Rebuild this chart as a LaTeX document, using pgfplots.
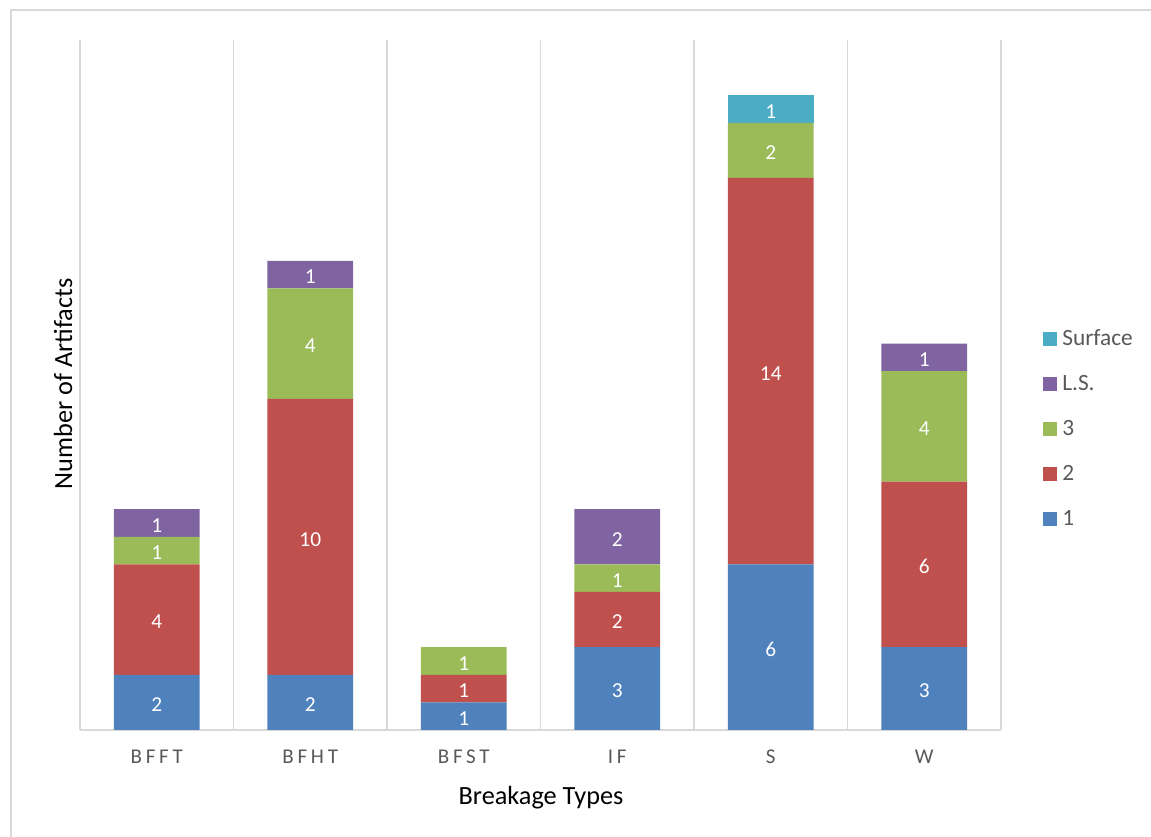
\documentclass[border=0pt]{standalone}
\usepackage{pgfplots}
\pgfplotsset{compat=1.18}
\usepackage{pgfplotstable}
\usepackage{fontspec}
\setmainfont{Carlito}
\definecolor{c1}{HTML}{4F81BD}
\definecolor{c2}{HTML}{C0504D}
\definecolor{c3}{HTML}{9BBB59}
\definecolor{c4}{HTML}{8064A2}
\definecolor{c5}{HTML}{4BACC6}
\definecolor{gridc}{HTML}{D9D9D9}
\definecolor{txt}{HTML}{595959}
\pgfplotstableread{
x a b c ls surf
0 2 4 1 1 0
1 2 10 4 1 0
2 1 1 1 0 0
3 3 2 1 2 0
4 6 14 2 0 1
5 3 6 4 1 0
}\data
\newcommand\lsp[1]{{\addfontfeature{LetterSpace=18}#1}}
\begin{document}
\begin{tikzpicture}[x=0.75pt,y=0.75pt]
\useasboundingbox (0,0) rectangle (1151,837);
\draw[gridc, line width=1.5pt] (10.5,-5) -- (10.5,826.5) -- (1160,826.5);
\begin{axis}[
  at={(60pt,80.25pt)}, anchor=south west,
  scale only axis, width=690.75pt, height=517.5pt,
  xmin=-0.5, xmax=5.5, ymin=0, ymax=25,
  ybar stacked, bar width=64.2pt,
  axis x line*=bottom, axis y line=none, ytick=\empty,
  x axis line style={gridc, line width=1.2pt},
  xtick={0,...,5},
  xticklabels={\lsp{BFFT},\lsp{BFHT},\lsp{BFST},\lsp{IF},\lsp{S},\lsp{W}},
  major tick length=0pt, minor tick length=0pt,
  minor xtick={-0.5,0.5,...,5.5}, xminorgrids,
  minor grid style={gridc, line width=1.2pt},
  xticklabel style={font=\fontsize{15.75pt}{18pt}\selectfont, text=txt, anchor=center, yshift=-20.25pt},
  point meta=explicit symbolic,
  nodes near coords={\ifnum\pgfplotspointmeta>0 \pgfplotspointmeta\fi},
  every node near coord/.append style={anchor=center, yshift=-1.8pt, text=white, font=\fontsize{16pt}{18pt}\selectfont},
  legend style={draw=none, fill=none, at={(1.0413,0.436)}, anchor=west,
    font=\fontsize{17.5pt}{20pt}\selectfont, text=txt, row sep=18.75pt,
    nodes={inner sep=0pt, text height=12pt, text depth=3pt},
    /tikz/every odd column/.append style={column sep=3.75pt}},
  legend cell align=left,
  reverse legend,
  legend image code/.code={\fill[#1] (0pt,-5.25pt) rectangle (10.5pt,5.25pt);},
]
\addplot[fill=c1, draw=none] table[x=x,y=a,meta=a]{\data};
\addplot[fill=c2, draw=none] table[x=x,y=b,meta=b]{\data};
\addplot[fill=c3, draw=none] table[x=x,y=c,meta=c]{\data};
\addplot[fill=c4, draw=none] table[x=x,y=ls,meta=ls]{\data};
\addplot[fill=c5, draw=none] table[x=x,y=surf,meta=surf]{\data};
\legend{1,2,3,L.S.,Surface}
\end{axis}
\node[anchor=base, font=\fontsize{19.7pt}{22pt}\selectfont] at (541,32) {Breakage Types};
\node[anchor=base, rotate=90, font=\fontsize{19.7pt}{22pt}\selectfont] at (72,453) {Number of Artifacts};
\end{tikzpicture}
\end{document}
